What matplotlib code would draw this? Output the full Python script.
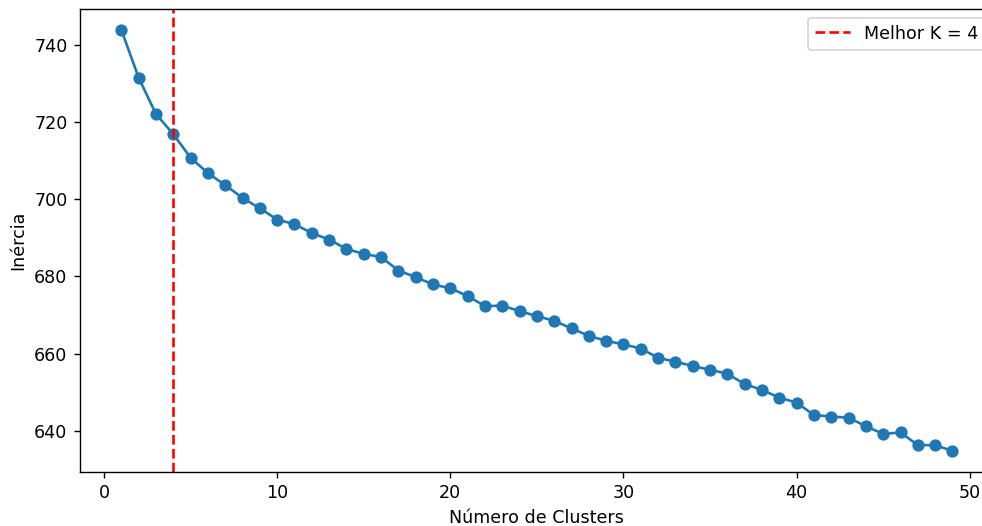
import matplotlib
matplotlib.use("Agg")
import matplotlib.pyplot as plt

k_values = list(range(1, 50))
inertia = [743.8, 731.4, 722.0, 716.8, 710.7, 706.7, 703.6, 700.3, 697.6, 694.7,
           693.5, 691.2, 689.5, 687.1, 685.8, 685.0, 681.5, 679.8, 677.9, 676.9,
           674.9, 672.3, 672.4, 671.0, 669.7, 668.5, 666.5, 664.6, 663.3, 662.4,
           661.3, 658.9, 657.9, 656.8, 655.8, 654.8, 652.1, 650.6, 648.6, 647.3,
           644.1, 643.7, 643.4, 641.2, 639.2, 639.6, 636.3, 636.3, 634.8]
best_k = 4

W, H = 982, 526
DPI = 126
fig = plt.figure(figsize=(W / DPI, H / DPI), dpi=DPI)
left, right, top, bottom = 79.8, 994.0, 8.8, 472.0
ax = fig.add_axes([left / W, (H - bottom) / H, (right - left) / W, (bottom - top) / H])

ax.plot(k_values, inertia, marker='o', color='#1f77b4')
ax.axvline(best_k, color='red', linestyle='--', label=f'Melhor K = {best_k}')
ax.set_xlabel('Número de Clusters')
ax.set_ylabel('Inércia')
ax.legend(loc='upper right')

fig.savefig('out.png', dpi=DPI)
